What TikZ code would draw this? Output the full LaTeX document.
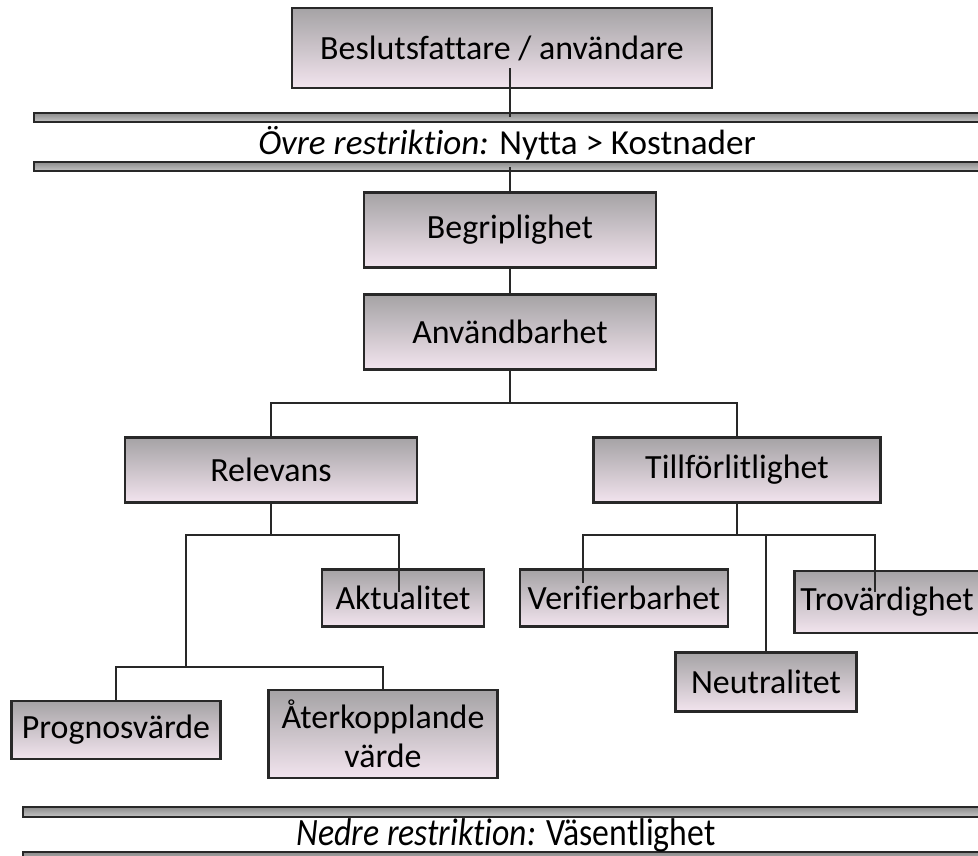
\documentclass[tikz,border=0pt]{standalone}
\usepackage{fontspec}
\setmainfont{Carlito}[Ligatures=NoCommon]
\usepackage{xcolor}
\usepackage{tikz}
\usetikzlibrary{positioning, calc}

\definecolor{boxpink}{RGB}{242,228,238}
\definecolor{boxgray}{RGB}{165,163,165}
\definecolor{edgegray}{RGB}{40,40,40}

\tikzset{
  box/.style={draw=edgegray, line width=1.3pt, top color=boxgray, bottom color=boxpink,
              align=center, inner sep=2pt, font=\fontsize{19.3}{22}\selectfont},
  bar/.style={draw=edgegray, line width=1.1pt, top color=gray!90, bottom color=gray!45},
  link/.style={draw=edgegray, line width=1.2pt},
  restr/.style={font=\fontsize{20}{23}\selectfont}
}

\begin{document}
\begin{tikzpicture}[x=0.02cm, y=-0.02cm]
\useasboundingbox (0,0) rectangle (978,856);

% restriction bars
\path[bar] (34,113) rectangle (990,122);
\path[bar] (34,162) rectangle (990,171);
\node[restr] (upper) at (507,143) {\textit{Övre restriktion:} Nytta > Kostnader};
\path[bar] (23,807) rectangle (990,817);
\path[bar] (23,852) rectangle (990,864);
\node[restr, yscale=1.1, xscale=0.96] (lower) at (506,835) {\textit{Nedre restriktion:} Väsentlighet};
\coordinate (barA) at (510,117);
\coordinate (barB) at (510,167);

% boxes
\node[box, minimum width=8.4cm, minimum height=1.6cm] (user) at (502,48) {Beslutsfattare / användare};
\node[box, minimum width=5.84cm, minimum height=1.5cm] (begrip) at (510,230) {Begriplighet};
\node[box, minimum width=5.84cm, minimum height=1.5cm] (anvand) at (510,332) {Användbarhet};
\node[box, minimum width=5.84cm, minimum height=1.3cm] (relev) at (271,470) {Relevans};
\node[box, minimum width=5.74cm, minimum height=1.3cm] (tillf) at (737,470) {Tillförlitlighet};
\node[box, minimum width=3.24cm, minimum height=1.14cm] (aktual) at (403,598) {Aktualitet};
\node[box, minimum width=4.16cm, minimum height=1.14cm] (verif) at (624,598) {Verifierbarhet};
\node[box, minimum width=3.7cm, minimum height=1.24cm] (trov) at (887,602) {Trovärdighet};
\node[box, minimum width=3.62cm, minimum height=1.18cm] (neutr) at (766,682) {Neutralitet};
\node[box, minimum width=4.18cm, minimum height=1.16cm] (progn) at (116,730) {Prognosvärde};
\node[box, minimum width=4.58cm, minimum height=1.76cm] (aterk) at (383,734) {Återkopplande\\värde};

% junctions and line ends
\coordinate (userEnd) at (510,68);
\coordinate (jTop) at (510,403);
\coordinate (jRel) at (271,535);
\coordinate (jPro) at (186,667);
\coordinate (jTil) at (737,535);
\coordinate (aktEnd) at (399,592);
\coordinate (verEnd) at (583,583);
\coordinate (troEnd) at (875,592);

% connectors
\draw[link] (userEnd) -- (barA);
\draw[link] (barB) -- (begrip.north);
\draw[link] (begrip) -- (anvand);
\draw[link] (anvand.south) -- (jTop);
\draw[link] (relev.north) |- (jTop) -| (tillf.north);
\draw[link] (relev.south) -- (jRel);
\draw[link] (jPro) |- (jRel) -| (aktEnd);
\draw[link] (progn.north) |- (jPro) -| (aterk.north);
\draw[link] (tillf.south) -- (jTil);
\draw[link] (verEnd) |- (jTil) -| (troEnd);
\draw[link] (neutr.north |- jTil) -- (neutr.north);
\end{tikzpicture}
\end{document}
